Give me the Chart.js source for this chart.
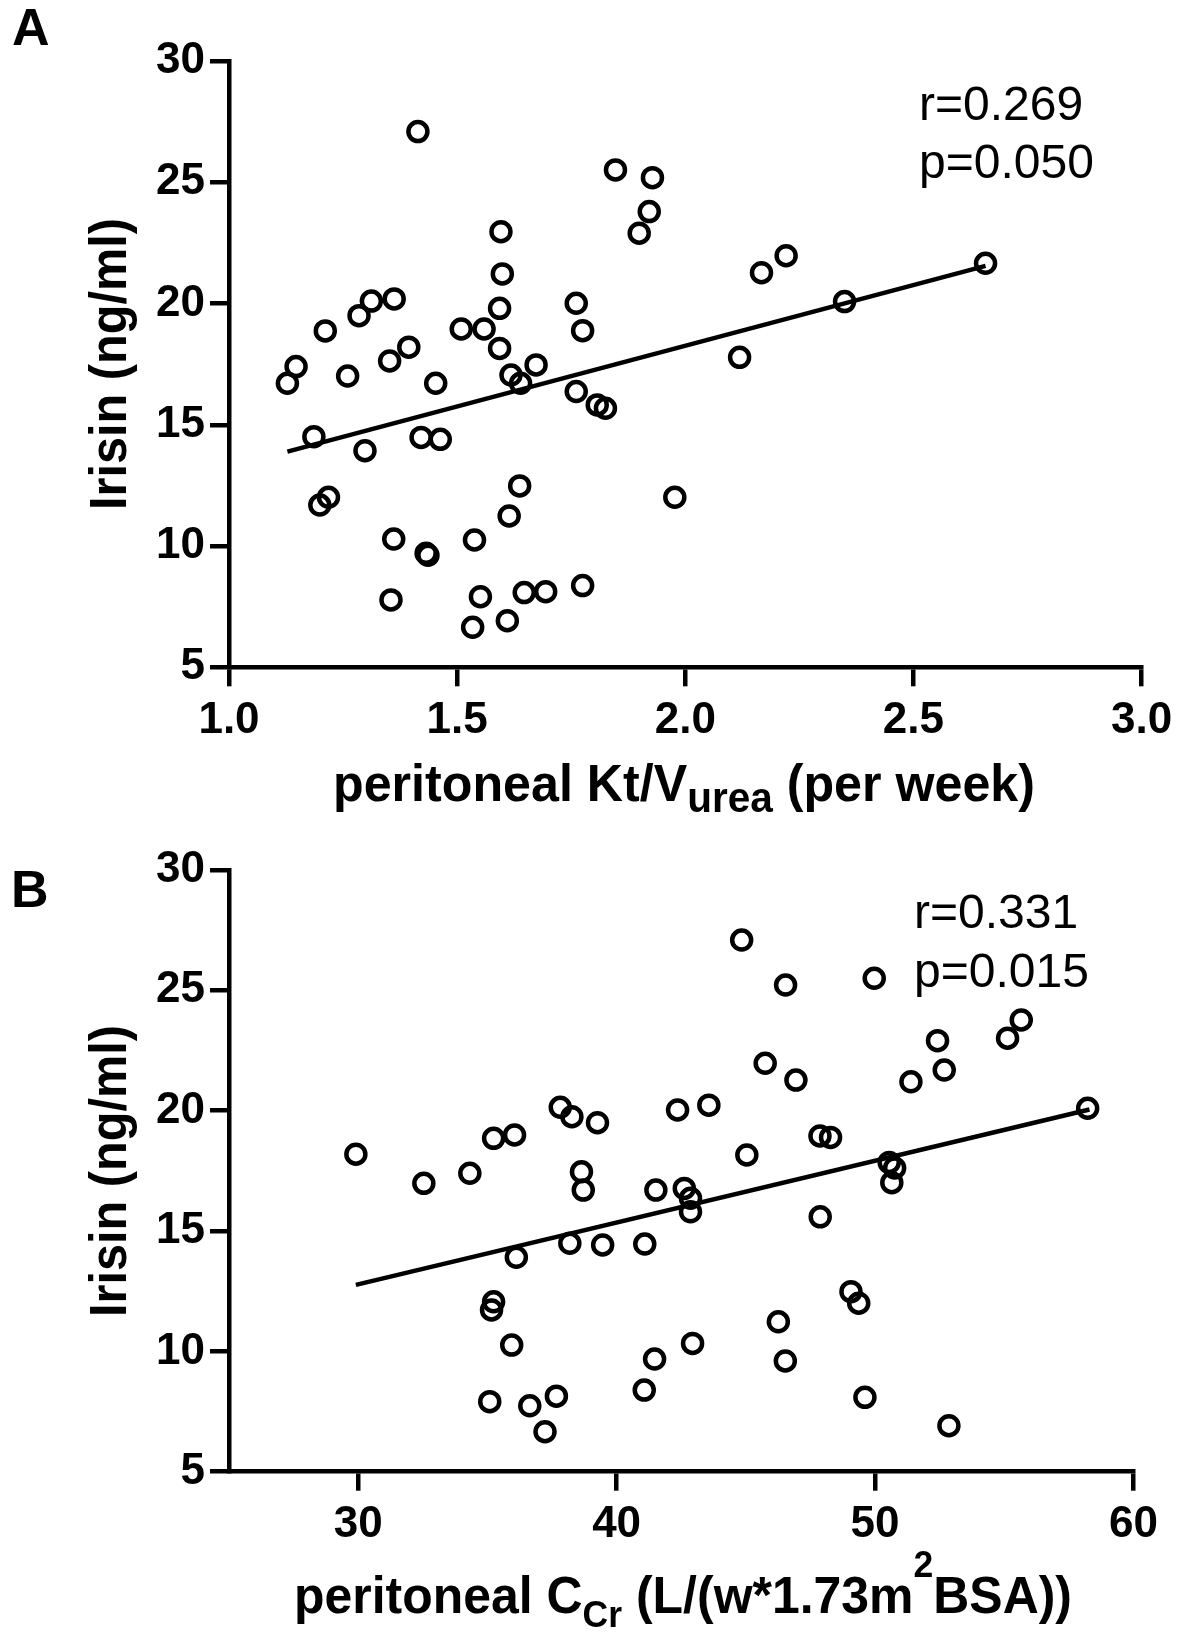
<!DOCTYPE html>
<html lang="en">
<head>
<meta charset="UTF-8">
<title>Irisin vs peritoneal Kt/V and Ccr</title>
<script src="https://cdn.jsdelivr.net/npm/chart.js"></script>
<style>
  body { margin: 0; background: #fff; }
  #page { position: relative; width: 1191px; height: 1633px; overflow: hidden; background: #fff;
          font-family: 'Liberation Sans', Arial, sans-serif; color: #000; }
  canvas { position: absolute; left: 0; }
  #chartA { top: 0; }
  #chartB { top: 816px; }
  .lbl { position: absolute; left: 0; top: 0; white-space: nowrap; line-height: 1; transform-origin: 0 0; }
  .panel { font-weight: bold; font-size: 52px; }
  .title { font-weight: bold; font-size: 52px; }
  .stat { font-size: 48px; }
  sub, sup { line-height: 0; }
  .subA { font-size: 42px; vertical-align: -11px; }
  .subB { font-size: 37px; vertical-align: -14px; }
  .supB { font-size: 37px; vertical-align: 36px; }
</style>
</head>
<body>
<div id="page">
  <canvas id="chartA" width="1191" height="816"></canvas>
  <canvas id="chartB" width="1191" height="817"></canvas>

  <div class="lbl panel" id="panelA">A</div>
  <div class="lbl panel" id="panelB">B</div>

  <div class="lbl title" id="yTitleA">Irisin (ng/ml)</div>
  <div class="lbl title" id="yTitleB">Irisin (ng/ml)</div>
  <div class="lbl title" id="xTitleA">peritoneal Kt/V<span class="subA">urea</span> (per week)</div>
  <div class="lbl title" id="xTitleB">peritoneal C<span class="subB">Cr</span> (L/(w*1.73m<span class="supB">2</span>BSA))</div>

  <div class="lbl stat" id="rA">r=0.269</div>
  <div class="lbl stat" id="pA">p=0.050</div>
  <div class="lbl stat" id="rB">r=0.331</div>
  <div class="lbl stat" id="pB">p=0.015</div>
</div>

<script>
// Panel A: peritoneal Kt/V urea (per week) vs irisin (ng/ml)
const kvA = [1.414, 1.596, 1.599, 1.593, 1.362, 1.312, 1.285, 1.211, 1.394, 1.352,
             1.147, 1.128, 1.260, 1.453, 1.509, 1.559, 1.593, 1.618, 1.639, 1.673,
             1.761, 1.775, 1.761, 1.807, 1.825, 1.847, 1.928, 1.921, 1.899, 2.221,
             2.167, 2.658, 2.349, 2.119, 1.186, 1.298, 1.421, 1.463, 1.218, 1.199,
             1.361, 1.432, 1.436, 1.538, 1.614, 1.637, 1.355, 1.551, 1.534, 1.610,
             1.647, 1.694, 1.775, 1.977];
const irisinA = [27.09, 22.96, 21.22, 19.80, 20.19, 20.10, 19.50, 18.87, 18.20, 17.63,
                 17.40, 16.71, 17.01, 16.71, 18.95, 18.95, 18.15, 17.05, 16.71, 17.47,
                 20.01, 18.88, 16.37, 15.82, 15.68, 25.51, 25.19, 23.79, 22.90, 21.97,
                 21.27, 21.66, 20.08, 17.78, 14.51, 13.93, 14.48, 14.40, 12.01, 11.69,
                 10.29, 9.70, 9.62, 10.25, 11.24, 12.48, 7.78, 7.91, 6.65, 6.92,
                 8.08, 8.12, 8.37, 12.01];
const fitAX = [1.128, 2.658];
const fitAY = [13.89, 21.55];

// Panel B: peritoneal Ccr (L/(w*1.73m2 BSA)) vs irisin (ng/ml)
const ccrB = [29.91, 32.54, 34.32, 35.24, 36.05, 37.82, 38.27, 38.64, 38.71, 44.84,
              46.54, 49.97, 55.66, 55.13, 52.42, 52.68, 51.39, 45.75, 46.94, 58.23,
              43.57, 42.36, 39.26, 47.87, 48.28, 45.04, 41.52, 42.62, 42.86, 42.86,
              50.55, 50.76, 50.65, 47.88, 36.12, 38.19, 39.46, 41.09, 35.24, 35.16,
              35.94, 35.09, 36.64, 37.67, 37.23, 49.07, 49.37, 46.26, 42.94, 41.47,
              46.53, 41.07, 49.61, 52.86];
const irisinB = [18.19, 16.98, 17.40, 18.85, 18.99, 20.14, 19.75, 17.46, 16.70, 27.09,
                 25.22, 25.50, 23.77, 23.01, 22.91, 21.69, 21.20, 21.97, 21.27, 20.10,
                 20.23, 20.03, 19.50, 18.95, 18.89, 18.16, 16.70, 16.77, 16.36, 15.80,
                 17.85, 17.62, 17.01, 15.59, 13.91, 14.49, 14.42, 14.46, 12.06, 11.72,
                 10.26, 7.91, 7.74, 8.14, 6.66, 12.48, 12.00, 11.23, 10.33, 9.68,
                 9.60, 8.39, 8.09, 6.91];
const fitBX = [29.91, 58.3];
const fitBY = [12.76, 20.05];

// axis ticks
const ticksXA = [1.0, 1.5, 2.0, 2.5, 3.0];
const ticksXB = [30, 40, 50, 60];
const ticksY = [5, 10, 15, 20, 25, 30];

const tickFont = { family: "'Liberation Sans', Arial, sans-serif", size: 44, weight: 'bold' };

function toPoints(xs, ys) {
  return xs.map((x, i) => ({ x: x, y: ys[i] }));
}

function makeChart(id, xs, ys, fitX, fitY, xRange, xTicks, box, fmt) {
  const cv = document.getElementById(id);
  const grid = { display: true, drawOnChartArea: false, drawTicks: true, tickLength: 19,
                 tickWidth: 4.5, tickColor: '#000', color: '#000', lineWidth: 4.5 };
  const border = { display: true, color: '#000', width: 4.5 };
  return new Chart(cv, {
    type: 'scatter',
    data: {
      datasets: [
        {
          data: toPoints(xs, ys),
          pointStyle: 'circle',
          pointRadius: 9.5,
          pointHoverRadius: 9.5,
          pointBorderWidth: 4.5,
          pointHoverBorderWidth: 4.5,
          pointBorderColor: '#000',
          pointBackgroundColor: 'rgba(0,0,0,0)',
          showLine: false
        },
        {
          data: toPoints(fitX, fitY),
          showLine: true,
          borderColor: '#000',
          borderWidth: 4.5,
          pointRadius: 0,
          pointHoverRadius: 0,
          fill: false
        }
      ]
    },
    options: {
      responsive: false,
      animation: false,
      events: [],
      layout: { padding: { left: 0, top: box.top, right: cv.width - box.right, bottom: 0 } },
      plugins: { legend: { display: false }, tooltip: { enabled: false } },
      scales: {
        x: {
          type: 'linear', min: xRange[0], max: xRange[1],
          afterBuildTicks: s => { s.ticks = xTicks.map(v => ({ value: v })); },
          afterFit: s => { s.height = cv.height - box.bottom; },
          grid: grid, border: border,
          ticks: { font: tickFont, color: '#000', padding: 8, maxRotation: 0, autoSkip: false, callback: fmt }
        },
        y: {
          type: 'linear', min: ticksY[0], max: ticksY[ticksY.length - 1],
          afterBuildTicks: s => { s.ticks = ticksY.map(v => ({ value: v })); },
          afterFit: s => { s.width = box.left; },
          grid: grid, border: border,
          ticks: { font: tickFont, color: '#000', padding: 5, autoSkip: false, callback: v => String(v) }
        }
      }
    }
  });
}

makeChart('chartA', kvA, irisinA, fitAX, fitAY, [1, 3], ticksXA,
          { left: 229, top: 61, right: 1141.6, bottom: 667.3 }, v => v.toFixed(1));
makeChart('chartB', ccrB, irisinB, fitBX, fitBY, [25, 60], ticksXB,
          { left: 229, top: 54, right: 1133.4, bottom: 655.7 }, v => String(v));

// text placement by baseline
function measure(el) {
  const m = document.createElement('span');
  m.style.cssText = 'display:inline-block;width:0;height:0;vertical-align:baseline';
  el.insertBefore(m, el.firstChild);
  const r = el.getBoundingClientRect();
  const b = m.getBoundingClientRect().top - r.top;
  return { w: r.width, b: b };
}

function placeAt(id, left, baseline) {
  const el = document.getElementById(id);
  const k = measure(el);
  el.style.left = left + 'px';
  el.style.top = (baseline - k.b) + 'px';
}

function placeX(id, cx, width, baseline) {
  const el = document.getElementById(id);
  const k = measure(el);
  const s = width / k.w;
  el.style.left = (cx - width / 2) + 'px';
  el.style.top = (baseline - k.b) + 'px';
  el.style.transform = 'scaleX(' + s + ')';
}

function placeY(id, baseX, cy, length) {
  const el = document.getElementById(id);
  const k = measure(el);
  const s = length / k.w;
  el.style.left = (baseX - k.b) + 'px';
  el.style.top = (cy + length / 2) + 'px';
  el.style.transform = 'rotate(-90deg) scaleX(' + s + ')';
}

placeAt('panelA', 12, 45);
placeAt('panelB', 11, 907);

placeY('yTitleA', 126, 364, 292);
placeY('yTitleB', 126, 1171, 292);

placeX('xTitleA', 684, 702, 801);
placeX('xTitleB', 683, 778, 1613);

placeAt('rA', 919, 120);
placeAt('pA', 919, 178);
placeAt('rB', 914, 928);
placeAt('pB', 914, 987);
</script>
</body>
</html>
